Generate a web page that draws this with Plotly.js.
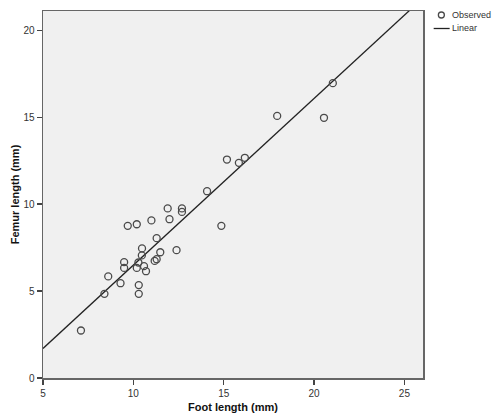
<!DOCTYPE html>
<html>
<head>
<meta charset="utf-8">
<script src="https://cdn.plot.ly/plotly-3.0.1.min.js"></script>
<style>
  html, body { margin: 0; padding: 0; background: #ffffff; }
  #chart { width: 497px; height: 417px; }
</style>
</head>
<body>
<div id="chart"></div>
<script>
// Foot length vs femur length (mm), with the fitted linear regression line.
const footLength = [
  7.10, 8.40, 8.61, 9.29, 9.49, 9.49, 9.69, 10.19, 10.30, 10.30,
  10.19, 10.28, 10.48, 10.47, 10.59, 10.70, 11.00, 11.29, 11.29, 11.18,
  11.49, 12.00, 11.90, 12.69, 12.69, 12.39, 14.08, 14.87, 15.18, 15.84,
  16.17, 17.96, 20.55, 21.04
];
const femurLength = [
  2.73, 4.84, 5.84, 5.45, 6.66, 6.33, 8.75, 8.84, 5.34, 4.84,
  6.33, 6.64, 7.45, 7.05, 6.43, 6.14, 9.06, 8.04, 6.83, 6.73,
  7.23, 9.13, 9.75, 9.75, 9.55, 7.35, 10.74, 8.75, 12.56, 12.37,
  12.66, 15.07, 14.96, 16.95
];

// Linear fit: femur = intercept + slope * foot
const fitIntercept = -3.09;
const fitSlope = 0.958;
const fitX = [5, 26.03];

const xTicks = [5, 10, 15, 20, 25];
const yTicks = [0, 5, 10, 15, 20];
const legendNames = ['Observed', 'Linear'];

const xRange = [5, 26.03];
const yRange = [0, 21.1];

const fitY = fitX.map(x => fitIntercept + fitSlope * x);

const observed = {
  type: 'scatter',
  mode: 'markers',
  name: legendNames[0],
  x: footLength,
  y: femurLength,
  marker: {
    symbol: 'circle-open',
    size: 7,
    color: '#4a4a4a',
    line: { width: 1.3, color: '#4a4a4a' }
  },
  cliponaxis: true,
  hoverinfo: 'x+y'
};

const linear = {
  type: 'scatter',
  mode: 'lines',
  name: legendNames[1],
  x: fitX,
  y: fitY,
  line: { color: '#222222', width: 1.3 },
  hoverinfo: 'skip'
};

// Plot area in pixels, used to place the hand-drawn legend in paper units.
const margin = { l: 42.5, r: 73.7, t: 11, b: 39 };
const W = 497, H = 417;
const plotW = W - margin.l - margin.r;
const plotH = H - margin.t - margin.b;
const px = p => (p - margin.l) / plotW;
const py = p => (H - margin.b - p) / plotH;

const axisCommon = {
  showgrid: false,
  zeroline: false,
  showline: true,
  linecolor: '#666666',
  linewidth: 1.5,
  mirror: true,
  ticks: 'outside',
  ticklen: 5,
  tickwidth: 1.2,
  tickcolor: '#444444',
  tickfont: { family: 'Liberation Sans, Arial, sans-serif', size: 10, color: '#333333' },
  fixedrange: true
};

const layout = {
  width: W,
  height: H,
  margin: margin,
  paper_bgcolor: '#ffffff',
  plot_bgcolor: '#f0f0f0',
  showlegend: false,
  xaxis: Object.assign({}, axisCommon, {
    range: xRange,
    tickvals: xTicks,
    ticktext: xTicks.map(String),
    title: {
      text: 'Foot length (mm)',
      font: { family: 'Liberation Sans, Arial, sans-serif', size: 11, color: '#111111', weight: 'bold' },
      standoff: 6
    }
  }),
  yaxis: Object.assign({}, axisCommon, {
    range: yRange,
    tickvals: yTicks,
    ticktext: yTicks.map(String),
    title: {
      text: 'Femur length (mm)',
      font: { family: 'Liberation Sans, Arial, sans-serif', size: 11, color: '#111111', weight: 'bold' },
      standoff: 1
    }
  }),
  shapes: [
    {
      type: 'circle', xref: 'paper', yref: 'paper',
      xsizemode: 'pixel', ysizemode: 'pixel',
      xanchor: px(441.7), yanchor: py(15),
      x0: -3, x1: 3, y0: -3, y1: 3,
      line: { color: '#4a4a4a', width: 1.3 }
    },
    {
      type: 'line', xref: 'paper', yref: 'paper',
      x0: px(434), x1: px(450), y0: py(28.5), y1: py(28.5),
      line: { color: '#222222', width: 1.3 }
    }
  ],
  annotations: [
    {
      xref: 'paper', yref: 'paper', x: px(450), y: py(15),
      xanchor: 'left', yanchor: 'middle', showarrow: false,
      text: legendNames[0],
      font: { family: 'Liberation Sans, Arial, sans-serif', size: 9, color: '#333333' }
    },
    {
      xref: 'paper', yref: 'paper', x: px(450), y: py(28.5),
      xanchor: 'left', yanchor: 'middle', showarrow: false,
      text: legendNames[1],
      font: { family: 'Liberation Sans, Arial, sans-serif', size: 9, color: '#333333' }
    }
  ]
};

Plotly.newPlot('chart', [linear, observed], layout, { displayModeBar: false, staticPlot: true });
</script>
</body>
</html>
